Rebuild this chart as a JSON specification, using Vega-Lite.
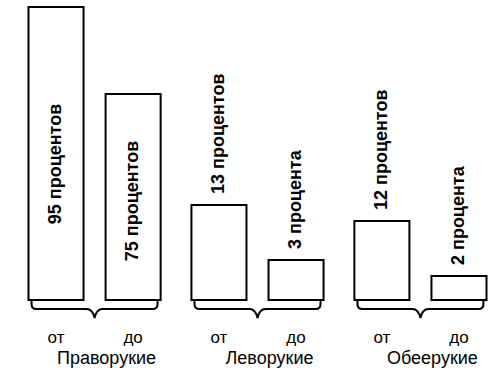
{
  "$schema": "https://vega.github.io/schema/vega-lite/v6.json",
  "autosize": {"type": "none"},
  "padding": {"left": 28.5, "top": 0, "right": 14.5, "bottom": 73},
  "width": 458,
  "height": 300,
  "background": "white",
  "config": {"view": {"stroke": null}, "font": "Liberation Sans"},
  "data": {
    "values": [
      {"group": "Праворукие", "kind": "от", "percent": 95, "label": "95 процентов"},
      {"group": "Праворукие", "kind": "до", "percent": 75, "label": "75 процентов"},
      {"group": "Леворукие", "kind": "от", "percent": 13, "label": "13 процентов"},
      {"group": "Леворукие", "kind": "до", "percent": 3, "label": "3 процента"},
      {"group": "Обеерукие", "kind": "от", "percent": 12, "label": "12 процентов"},
      {"group": "Обеерукие", "kind": "до", "percent": 2, "label": "2 процента"}
    ]
  },
  "encoding": {
    "x": {
      "field": "group",
      "type": "nominal",
      "sort": ["Праворукие", "Леворукие", "Обеерукие"],
      "scale": {"paddingInner": 0.189, "paddingOuter": 0},
      "axis": {
        "title": null,
        "domain": false,
        "ticks": false,
        "tickSize": 0,
        "labelPadding": 63,
        "labelBaseline": "alphabetic",
        "labelFontSize": 18,
        "labelFont": "Liberation Sans",
        "labelColor": "black",
        "labelOffset": 12,
        "labelAngle": 0
      }
    }
  },
  "layer": [
    {
      "mark": {"type": "bar", "fill": "white", "stroke": "black", "strokeWidth": 2},
      "encoding": {
        "xOffset": {"field": "kind", "type": "nominal", "sort": ["от", "до"], "scale": {"paddingInner": 0.286, "paddingOuter": 0}},
        "y": {
          "field": "percent",
          "type": "quantitative",
          "scale": {"type": "linear", "domain": [0, 2, 3, 12, 13, 75, 95], "range": [300, 276, 260, 221, 205, 94, 7], "nice": false, "zero": false},
          "axis": null
        }
      }
    },
    {
      "transform": [{"filter": "datum.percent == 95"}],
      "mark": {"type": "text", "angle": 270, "align": "center", "baseline": "middle", "dx": -157, "fontSize": 18, "fontWeight": "bold", "color": "black"},
      "encoding": {
        "xOffset": {"field": "kind", "type": "nominal", "sort": ["от", "до"]},
        "y": {"field": "percent", "type": "quantitative"},
        "text": {"field": "label"}
      }
    },
    {
      "transform": [{"filter": "datum.percent == 75"}],
      "mark": {"type": "text", "angle": 270, "align": "center", "baseline": "middle", "dx": -107, "fontSize": 18, "fontWeight": "bold", "color": "black"},
      "encoding": {
        "xOffset": {"field": "kind", "type": "nominal", "sort": ["от", "до"]},
        "y": {"field": "percent", "type": "quantitative"},
        "text": {"field": "label"}
      }
    },
    {
      "transform": [{"filter": "datum.percent < 20"}],
      "mark": {"type": "text", "angle": 270, "align": "left", "baseline": "middle", "dx": 11, "fontSize": 18, "fontWeight": "bold", "color": "black"},
      "encoding": {
        "xOffset": {"field": "kind", "type": "nominal", "sort": ["от", "до"]},
        "y": {"field": "percent", "type": "quantitative"},
        "text": {"field": "label"}
      }
    },
    {
      "mark": {"type": "text", "baseline": "alphabetic", "align": "center", "dy": 43, "fontSize": 17, "color": "black"},
      "encoding": {
        "xOffset": {"field": "kind", "type": "nominal", "sort": ["от", "до"]},
        "y": {"datum": 0, "type": "quantitative"},
        "text": {"field": "kind"}
      }
    },
    {
      "transform": [{"filter": "datum.kind == 'от'"}],
      "mark": {
        "type": "point",
        "shape": "M -1 0 L -1 0.0635 Q -1 0.143 -0.921 0.143 L -0.127 0.143 Q -0.032 0.143 0 0.286 Q 0.032 0.143 0.127 0.143 L 0.921 0.143 Q 1 0.143 1 0.0635 L 1 0",
        "size": 15876,
        "filled": false,
        "color": "black",
        "strokeWidth": 2,
        "opacity": 1
      },
      "encoding": {
        "y": {"datum": 0, "type": "quantitative"}
      }
    }
  ]
}
